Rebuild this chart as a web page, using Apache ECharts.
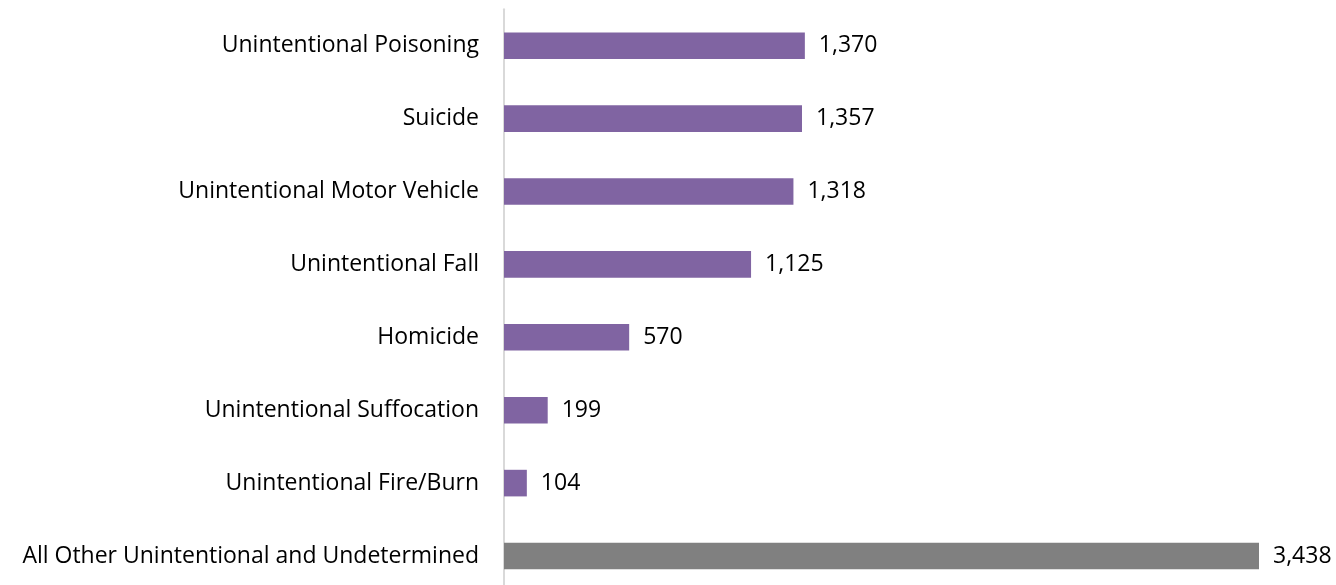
<!DOCTYPE html>
<html><head><meta charset="utf-8">
<script src="https://cdn.jsdelivr.net/npm/echarts@6/dist/echarts.min.js"></script>
<style>html,body{margin:0;padding:0;background:#fff;overflow:hidden}#c{width:1336px;height:600px}</style>
</head><body><div id="c"></div>
<script>
const categories = ["Unintentional Poisoning","Suicide","Unintentional Motor Vehicle","Unintentional Fall","Homicide","Unintentional Suffocation","Unintentional Fire/Burn","All Other Unintentional and Undetermined"];
const values = [1370,1357,1318,1125,570,199,104,3438];
const barColors = ["#8064a2","#8064a2","#8064a2","#8064a2","#8064a2","#8064a2","#8064a2","#808080"];

const chart = echarts.init(document.getElementById('c'), null, {renderer:'canvas'});
const font = '"Open Sans", sans-serif';
chart.setOption({
  animation:false,
  grid:{left:504,width:755,top:9.25,height:583.2,containLabel:false},
  xAxis:{type:'value',min:0,max:'dataMax',show:false},
  yAxis:{type:'category',data:categories,inverse:true,
    axisLine:{show:true,lineStyle:{color:'#d9d9d9',width:2}},
    axisTick:{show:false},
    axisLabel:{color:'#000',fontFamily:font,fontSize:23,margin:25}},
  series:[{type:'bar',barWidth:'36.5%',
    data:values.map((v,i)=>({value:v,itemStyle:{color:barColors[i]}})),
    label:{show:true,position:'right',distance:14,color:'#000',fontFamily:font,fontSize:23,
      formatter:p=>p.value.toLocaleString('en-US')}}]
});
</script></body></html>
